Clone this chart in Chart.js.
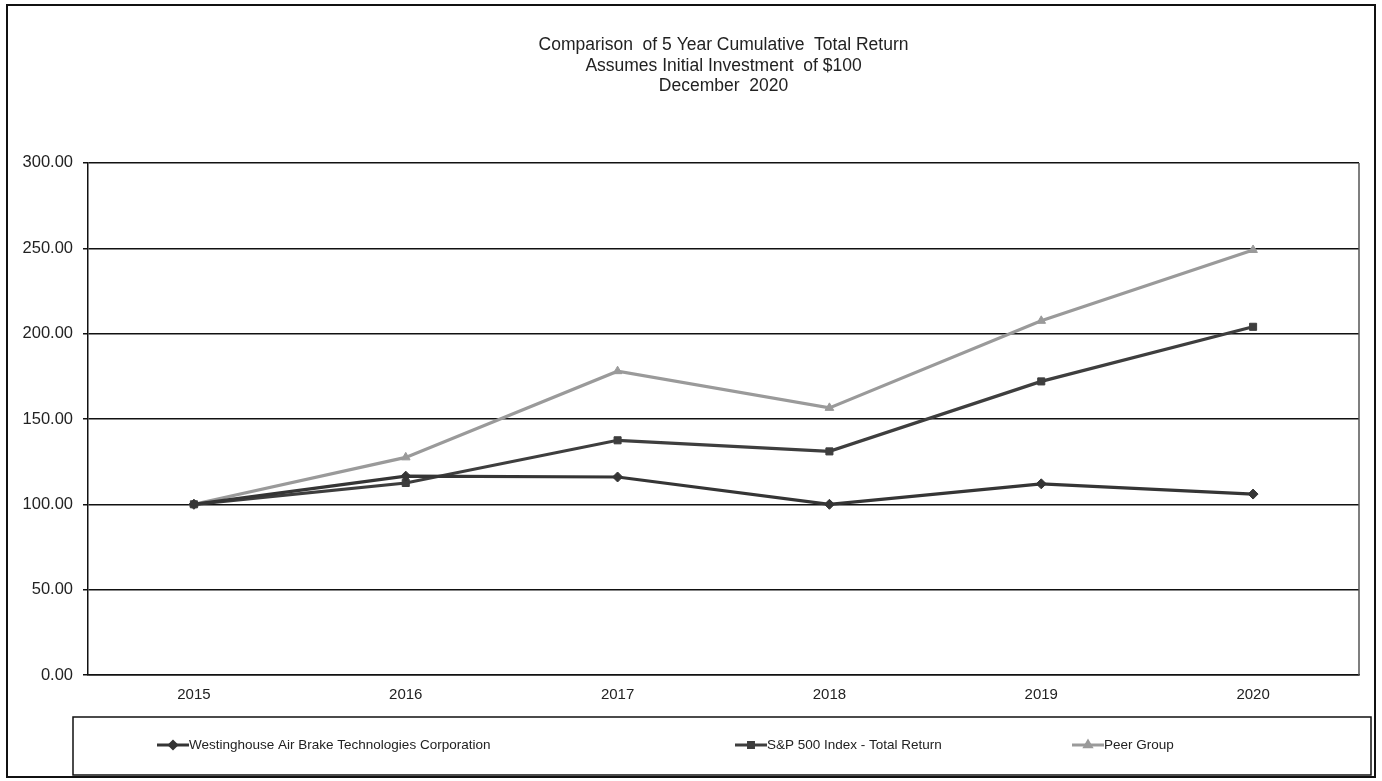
<!DOCTYPE html>
<html>
<head>
<meta charset="utf-8">
<script src="https://cdn.jsdelivr.net/npm/chart.js@4"></script>
<style>
  html, body { margin: 0; padding: 0; background: #fff; }
  #wrap { width: 1382px; height: 781px; }
</style>
</head>
<body>
<div id="wrap"><canvas id="grafico"></canvas></div>
<script>
// datos
const years = ['2015', '2016', '2017', '2018', '2019', '2020'];
const wabtec = [100, 116.5, 116, 100, 112, 106];
const sp500 = [100, 112.5, 137.5, 131, 172, 204];
const peers = [100, 127.5, 178, 156.5, 207.5, 249];
const seriesNames = ['Westinghouse Air Brake Technologies Corporation', 'S&P 500 Index - Total Return', 'Peer Group'];
const titleLines = ['Comparison  of 5 Year Cumulative  Total Return', 'Assumes Initial Investment  of $100', 'December  2020'];

const fuente = 'Liberation Sans, Arial, sans-serif';

// marco exterior, borde del area y leyenda en caja
const marcoPlugin = {
    id: 'marco',
    afterDraw(chart) {
        const ctx = chart.ctx;
        const a = chart.chartArea;
        ctx.save();
        // borde derecho del area de trazado
        ctx.strokeStyle = '#555';
        ctx.lineWidth = 1.5;
        ctx.beginPath();
        ctx.moveTo(a.right, a.top);
        ctx.lineTo(a.right, a.bottom);
        ctx.stroke();
        // marco exterior
        ctx.strokeStyle = '#111';
        ctx.lineWidth = 2;
        ctx.strokeRect(7, 5, chart.width - 14, chart.height - 9);
        // caja de la leyenda
        const lx = 73, ly = 717, lw = chart.width - 84, lh = 58;
        ctx.lineWidth = 1.5;
        ctx.strokeRect(lx, ly, lw, lh);
        const starts = [157, 735, 1072];
        const cy = ly + lh / 2 - 1;
        ctx.font = '13.5px ' + fuente;
        ctx.textBaseline = 'middle';
        chart.data.datasets.forEach((ds, i) => {
            const x0 = starts[i];
            ctx.strokeStyle = ds.borderColor;
            ctx.lineWidth = 3;
            ctx.beginPath();
            ctx.moveTo(x0, cy);
            ctx.lineTo(x0 + 32, cy);
            ctx.stroke();
            Chart.helpers.drawPoint(ctx, {
                pointStyle: ds.pointStyle,
                radius: 3.5,
                borderWidth: 1
            }, x0 + 16, cy);
            ctx.fillStyle = ds.borderColor;
            ctx.fill();
            ctx.fillStyle = '#222';
            ctx.fillText(ds.label, x0 + 32, cy);
        });
        ctx.restore();
    }
};

function serie(label, data, color, style) {
    return {
        label: label,
        data: data,
        borderColor: color,
        backgroundColor: color,
        borderWidth: 3.2,
        pointStyle: style,
        pointRadius: 5,
        pointBorderWidth: 1,
        pointBorderColor: color,
        pointBackgroundColor: color,
        tension: 0
    };
}

new Chart(document.getElementById('grafico'), {
    type: 'line',
    data: {
        labels: years,
        datasets: [
            serie(seriesNames[0], wabtec, '#353535', 'rectRot'),
            serie(seriesNames[1], sp500, '#3e3e3e', 'rect'),
            serie(seriesNames[2], peers, '#9a9a9a', 'triangle')
        ]
    },
    options: {
        responsive: true,
        maintainAspectRatio: false,
        animation: false,
        layout: { padding: { left: 0, top: 35, right: 23, bottom: 66 } },
        plugins: {
            legend: { display: false },
            tooltip: { enabled: false },
            title: {
                display: true,
                fullSize: false,
                text: titleLines,
                color: '#222',
                font: { family: fuente, size: 17.5, weight: 'normal', lineHeight: 1.17 },
                padding: { top: 0, bottom: 66.5 }
            }
        },
        scales: {
            x: {
                offset: true,
                grid: { display: false, drawTicks: false },
                border: { display: true, color: '#111', width: 1.5 },
                ticks: { color: '#222', padding: 11, font: { family: fuente, size: 15 } },
                afterFit(scale) { scale.height = 40; }
            },
            y: {
                min: 0,
                max: 300,
                ticks: {
                    stepSize: 50,
                    color: '#222',
                    padding: 10,
                    font: { family: fuente, size: 16.5 },
                    callback: v => v.toFixed(2)
                },
                grid: { color: '#111', lineWidth: 1.5, tickLength: 5, drawTicks: true },
                border: { display: true, color: '#111', width: 1.5 },
                afterFit(scale) { scale.width = 88; }
            }
        }
    },
    plugins: [marcoPlugin]
});
</script>
</body>
</html>
